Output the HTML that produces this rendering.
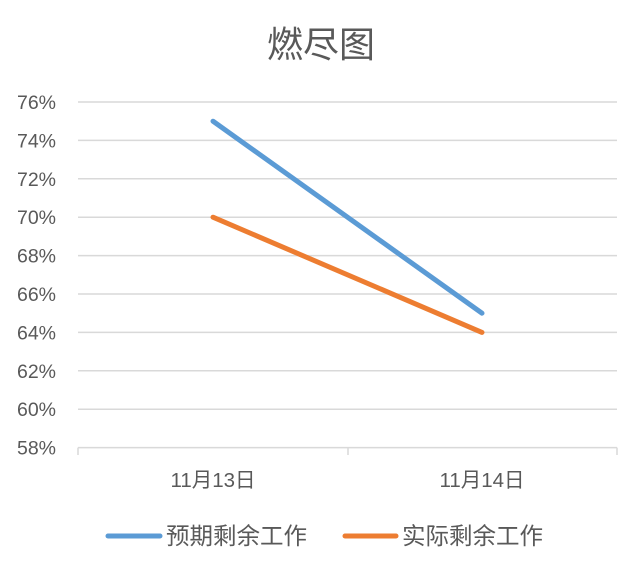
<!DOCTYPE html>
<html><head><meta charset="utf-8"><style>
html,body{margin:0;padding:0;background:#fff;}
</style></head><body>
<svg width="634" height="566" xmlns="http://www.w3.org/2000/svg" font-family="Liberation Sans, Noto Sans CJK SC, sans-serif">
<rect width="634" height="566" fill="#fff"/>
<text x="321" y="57" text-anchor="middle" font-size="36" fill="#595959">燃尽图</text>
<g stroke="#d9d9d9" stroke-width="1.5">
<line x1="78" x2="617" y1="102" y2="102"/>
<line x1="78" x2="617" y1="140.4" y2="140.4"/>
<line x1="78" x2="617" y1="178.8" y2="178.8"/>
<line x1="78" x2="617" y1="217.2" y2="217.2"/>
<line x1="78" x2="617" y1="255.6" y2="255.6"/>
<line x1="78" x2="617" y1="294" y2="294"/>
<line x1="78" x2="617" y1="332.4" y2="332.4"/>
<line x1="78" x2="617" y1="370.8" y2="370.8"/>
<line x1="78" x2="617" y1="409.2" y2="409.2"/>
<line x1="78" x2="617" y1="447.6" y2="447.6"/>
<line x1="78" x2="78" y1="447.6" y2="455"/>
<line x1="348" x2="348" y1="447.6" y2="455"/>
<line x1="617" x2="617" y1="447.6" y2="455"/>
</g>
<g font-size="19.5" fill="#595959" text-anchor="end">
<text x="56" y="109">76%</text>
<text x="56" y="147.4">74%</text>
<text x="56" y="185.8">72%</text>
<text x="56" y="224.2">70%</text>
<text x="56" y="262.6">68%</text>
<text x="56" y="301">66%</text>
<text x="56" y="339.4">64%</text>
<text x="56" y="377.8">62%</text>
<text x="56" y="416.2">60%</text>
<text x="56" y="454.6">58%</text>
</g>
<g font-size="20.5" fill="#595959" text-anchor="middle">
<text x="213" y="487">11月13日</text>
<text x="482" y="487">11月14日</text>
</g>
<line x1="213" y1="121.2" x2="482" y2="313.2" stroke="#5b9bd5" stroke-width="5" stroke-linecap="round"/>
<line x1="213" y1="217.2" x2="482" y2="332.4" stroke="#ed7d31" stroke-width="5" stroke-linecap="round"/>
<line x1="108" y1="536" x2="160" y2="536" stroke="#5b9bd5" stroke-width="5" stroke-linecap="round"/>
<text x="166" y="544" font-size="23.5" fill="#595959">预期剩余工作</text>
<line x1="345" y1="536" x2="396" y2="536" stroke="#ed7d31" stroke-width="5" stroke-linecap="round"/>
<text x="402" y="544" font-size="23.5" fill="#595959">实际剩余工作</text>
</svg>
</body></html>
